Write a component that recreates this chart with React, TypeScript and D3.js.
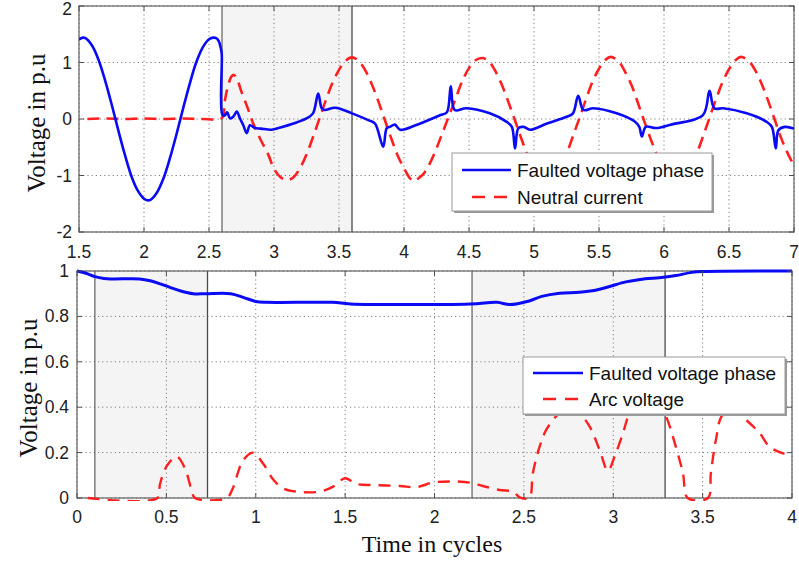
import React from 'react';
import * as d3 from 'd3';

// ---------- data ----------
const topTimeTicks = [1.5, 2, 2.5, 3, 3.5, 4, 4.5, 5, 5.5, 6, 6.5, 7];
const topValueTicks = [-2, -1, 0, 1, 2];
const bottomTimeTicks = [0, 0.5, 1, 1.5, 2, 2.5, 3, 3.5, 4];
const bottomValueTicks = [0, 0.2, 0.4, 0.6, 0.8, 1];

const topShaded: [number, number][] = [[2.6, 3.6]];
const bottomShaded: [number, number][] = [[0.1, 0.73], [2.21, 3.29]];

const topLegendLabels = ['Faulted voltage phase', 'Neutral current'];
const bottomLegendLabels = ['Faulted voltage phase', 'Arc voltage'];

const topFaultedVoltage: [number, number][] = [
  [1.5, 1.41], [1.53, 1.44], [1.55, 1.43], [1.6, 1.3], [1.65, 1.05], [1.7, 0.69], [1.75, 0.27],
  [1.8, -0.18], [1.85, -0.61], [1.9, -0.99], [1.95, -1.26], [2.0, -1.41], [2.03, -1.44],
  [2.05, -1.43], [2.1, -1.3], [2.15, -1.05], [2.2, -0.69], [2.25, -0.27], [2.3, 0.18],
  [2.35, 0.61], [2.4, 0.99], [2.45, 1.26], [2.5, 1.41], [2.53, 1.44], [2.555, 1.43],
  [2.575, 1.38], [2.59, 1.26], [2.598, 1.15], [2.602, 0.08], [2.62, 0.06], [2.64, 0.12],
  [2.662, 0.01], [2.69, 0.05], [2.713, 0.13], [2.74, 0.0], [2.764, -0.11], [2.79, -0.25],
  [2.815, -0.11], [2.854, -0.16], [2.9, -0.17], [2.98, -0.19], [3.05, -0.15], [3.15, -0.08],
  [3.25, 0.01], [3.3, 0.1], [3.34, 0.45], [3.367, 0.19], [3.39, 0.16], [3.47, 0.2],
  [3.6, 0.1], [3.725, -0.02], [3.777, -0.08], [3.84, -0.49], [3.867, -0.16], [3.89, -0.14],
  [3.93, -0.1], [3.97, -0.19], [4.1, -0.1], [4.28, 0.07], [4.33, 0.12], [4.36, 0.58],
  [4.39, 0.16], [4.48, 0.19], [4.66, 0.1], [4.79, -0.05], [4.83, -0.14], [4.854, -0.52],
  [4.88, -0.16], [4.92, -0.14], [4.97, -0.19], [5.1, -0.08], [5.25, 0.04], [5.3, 0.1],
  [5.34, 0.41], [5.38, 0.16], [5.456, 0.19], [5.636, 0.1], [5.777, -0.05], [5.81, -0.14],
  [5.83, -0.31], [5.86, -0.14], [5.94, -0.16], [6.05, -0.1], [6.3, 0.07], [6.35, 0.5],
  [6.387, 0.19], [6.456, 0.19], [6.636, 0.1], [6.79, -0.05], [6.83, -0.14], [6.86, -0.52],
  [6.88, -0.2], [6.93, -0.14], [7.0, -0.17],
];

const topNeutralCurrent: [number, number][] = [
  [1.565, 0], [1.7, 0.01], [1.85, 0], [2.0, 0.01], [2.15, 0], [2.3, 0.01], [2.45, 0], [2.6, 0.02],
  [2.62, 0.3], [2.65, 0.62], [2.675, 0.76], [2.69, 0.78], [2.71, 0.74], [2.75, 0.48],
  [2.8, 0.18], [2.84, -0.08], [2.9, -0.38], [2.956, -0.63], [3.0, -0.88], [3.05, -1.03],
  [3.1, -1.08], [3.15, -1.03], [3.2, -0.87], [3.25, -0.63], [3.3, -0.32], [3.35, 0.01],
  [3.4, 0.34], [3.45, 0.64], [3.5, 0.87], [3.55, 1.03], [3.6, 1.09], [3.65, 1.03],
  [3.7, 0.87], [3.75, 0.63], [3.8, 0.33], [3.85, 0.0], [3.9, -0.33], [3.95, -0.64],
  [4.0, -0.87], [4.05, -1.06], [4.08, -1.1], [4.1, -1.07], [4.15, -0.97], [4.2, -0.78],
  [4.25, -0.52], [4.3, -0.22], [4.35, 0.08], [4.4, 0.38], [4.45, 0.68], [4.5, 0.9],
  [4.55, 1.04], [4.6, 1.08], [4.65, 1.03], [4.7, 0.86], [4.75, 0.62], [4.8, 0.32],
  [4.85, 0.0], [4.9, -0.33], [4.95, -0.64], [5.0, -0.87], [5.05, -1.02], [5.1, -1.07],
  [5.15, -1.02], [5.2, -0.86], [5.25, -0.62], [5.3, -0.3], [5.35, 0.02], [5.4, 0.35],
  [5.45, 0.66], [5.5, 0.89], [5.55, 1.05], [5.59, 1.1], [5.65, 1.02], [5.7, 0.84],
  [5.75, 0.6], [5.8, 0.28], [5.85, -0.05], [5.9, -0.37], [5.95, -0.66], [6.0, -0.88],
  [6.05, -1.02], [6.1, -1.07], [6.15, -1.02], [6.2, -0.86], [6.25, -0.62], [6.3, -0.31],
  [6.35, 0.02], [6.4, 0.35], [6.45, 0.65], [6.5, 0.88], [6.55, 1.04], [6.59, 1.1],
  [6.65, 1.03], [6.7, 0.87], [6.75, 0.63], [6.8, 0.33], [6.85, 0.0], [6.9, -0.33],
  [6.95, -0.6], [7.0, -0.83],
];

const bottomFaultedVoltage: [number, number][] = [
  [0, 1.0], [0.05, 0.99], [0.1, 0.975], [0.15, 0.967], [0.2, 0.965], [0.35, 0.965],
  [0.41, 0.957], [0.47, 0.942], [0.52, 0.928], [0.58, 0.912], [0.65, 0.9], [0.72, 0.9],
  [0.86, 0.9], [0.93, 0.884], [1.0, 0.866], [1.06, 0.862], [1.43, 0.862], [1.53, 0.855],
  [2.2, 0.855], [2.35, 0.862], [2.42, 0.852], [2.53, 0.868], [2.6, 0.888], [2.7, 0.902],
  [2.81, 0.906], [2.9, 0.915], [2.98, 0.932], [3.07, 0.952], [3.15, 0.963], [3.28, 0.972],
  [3.35, 0.98], [3.44, 0.994], [3.5, 0.998], [4.0, 1.0],
];

const bottomArcVoltage: [number, number][] = [
  [0.06, 0], [0.45, 0], [0.464, 0.06], [0.5, 0.138], [0.557, 0.183], [0.604, 0.13],
  [0.641, 0.035], [0.66, 0], [0.837, 0], [0.87, 0.04], [0.893, 0.094], [0.93, 0.167],
  [0.985, 0.2], [1.04, 0.153], [1.1, 0.079], [1.153, 0.043], [1.228, 0.028], [1.358, 0.028],
  [1.433, 0.05], [1.5, 0.087], [1.563, 0.062], [1.656, 0.057], [1.805, 0.053], [1.9, 0.048],
  [1.99, 0.068], [2.085, 0.073], [2.197, 0.068], [2.27, 0.053], [2.364, 0.035], [2.44, 0.028],
  [2.476, 0.003], [2.53, 0], [2.55, 0.109], [2.588, 0.226], [2.625, 0.3], [2.7, 0.375],
  [2.76, 0.4], [2.81, 0.375], [2.868, 0.314], [2.924, 0.211], [2.97, 0.12], [3.007, 0.182],
  [3.054, 0.285], [3.09, 0.373], [3.15, 0.45], [3.2, 0.47], [3.25, 0.42], [3.296, 0.358],
  [3.35, 0.226], [3.39, 0.109], [3.417, 0], [3.53, 0], [3.546, 0.109], [3.574, 0.255],
  [3.61, 0.365], [3.67, 0.39], [3.743, 0.344], [3.82, 0.285], [3.874, 0.226], [3.95, 0.197],
  [4.0, 0.19],
];

// ---------- styles ----------
const BLUE = '#0a0af5';
const RED = '#ff1f1f';
const SANS = '"Liberation Sans", Arial, Helvetica, sans-serif';
const SERIF = '"Liberation Serif", "Times New Roman", serif';

type Series = { data: [number, number][]; color: string; dash?: string; width: number };

type PanelProps = {
  id: string;
  left: number; right: number; top: number; bottom: number;
  xDomain: [number, number]; yDomain: [number, number];
  xTicks: number[]; yTicks: number[];
  shaded: [number, number][];
  series: Series[];
  legend: { x: number; y: number; w: number; h: number; labels: string[]; lineX0: number; lineX1: number; dashX0: number; textX: number; rows: number[] };
  yLabelX: number; yLabelY: number; xTickBaseline: number; yTickRight: number;
};

function Panel(p: PanelProps) {
  const x = d3.scaleLinear().domain(p.xDomain).range([p.left, p.right]);
  const y = d3.scaleLinear().domain(p.yDomain).range([p.bottom, p.top]);
  const line = d3.line<[number, number]>()
    .x(d => x(d[0]))
    .y(d => y(d[1]))
    .curve(d3.curveCatmullRom.alpha(0.5));
  const tl = 5;
  const pad = 3;
  return (
    <g>
      <defs>
        <clipPath id={p.id}>
          <rect x={p.left} y={p.top - pad} width={p.right - p.left} height={p.bottom - p.top + 2 * pad} />
        </clipPath>
      </defs>
      {p.shaded.map(([a, b], i) => (
        <g key={'s' + i}>
          <rect x={x(a)} y={p.top} width={x(b) - x(a)} height={p.bottom - p.top} fill="#f4f4f4" />
        </g>
      ))}
      {p.xTicks.map((t, i) => (
        <line key={'gx' + i} x1={x(t)} x2={x(t)} y1={p.top} y2={p.bottom} stroke="#808080" strokeWidth={1} strokeDasharray="1.2,3" />
      ))}
      {p.yTicks.map((t, i) => (
        <line key={'gy' + i} x1={p.left} x2={p.right} y1={y(t)} y2={y(t)} stroke="#808080" strokeWidth={1} strokeDasharray="1.2,3" />
      ))}
      {p.shaded.map(([a, b], i) => (
        <g key={'sl' + i}>
          <line x1={x(a)} x2={x(a)} y1={p.top} y2={p.bottom} stroke="#6a6a6a" strokeWidth={1.3} />
          <line x1={x(b)} x2={x(b)} y1={p.top} y2={p.bottom} stroke="#4a4a4a" strokeWidth={1.3} />
        </g>
      ))}
      <rect x={p.left} y={p.top} width={p.right - p.left} height={p.bottom - p.top} fill="none" stroke="#606060" strokeWidth={1.2} />
      <g clipPath={`url(#${p.id})`}>
        {p.series.map((s, i) => (
          <path key={'c' + i} d={line(s.data) || ''} fill="none" stroke={s.color} strokeWidth={s.width}
            strokeDasharray={s.dash} strokeLinejoin="round" />
        ))}
      </g>
      {p.xTicks.map((t, i) => (
        <g key={'tx' + i}>
          <line x1={x(t)} x2={x(t)} y1={p.bottom} y2={p.bottom - tl} stroke="#505050" />
          <line x1={x(t)} x2={x(t)} y1={p.top} y2={p.top + tl} stroke="#505050" />
          <text x={x(t)} y={p.xTickBaseline} textAnchor="middle" fontFamily={SANS} fontSize={17.5} fill="#222">{String(t)}</text>
        </g>
      ))}
      {p.yTicks.map((t, i) => (
        <g key={'ty' + i}>
          <line x1={p.left} x2={p.left + tl} y1={y(t)} y2={y(t)} stroke="#505050" />
          <line x1={p.right} x2={p.right - tl} y1={y(t)} y2={y(t)} stroke="#505050" />
          <text x={p.yTickRight} y={Math.max(y(t) + 6, 15)} textAnchor="end" fontFamily={SANS} fontSize={17.5} fill="#222">{String(t)}</text>
        </g>
      ))}
      <text transform={`translate(${p.yLabelX},${p.yLabelY}) rotate(-90)`} textAnchor="middle" dominantBaseline="central"
        fontFamily={SERIF} fontSize={25} fill="#111">Voltage in p.u</text>
      {/* legend */}
      <g>
        <rect x={p.legend.x + 2} y={p.legend.y + 2} width={p.legend.w} height={p.legend.h} fill="#9a9a9a" />
        <rect x={p.legend.x} y={p.legend.y} width={p.legend.w} height={p.legend.h} fill="#fff" stroke="#9a9a9a" strokeWidth={1} />
        <line x1={p.legend.lineX0} x2={p.legend.lineX1} y1={p.legend.rows[0]} y2={p.legend.rows[0]} stroke={BLUE} strokeWidth={2.6} />
        <line x1={p.legend.dashX0} x2={p.legend.lineX1} y1={p.legend.rows[1]} y2={p.legend.rows[1]} stroke={RED} strokeWidth={2.6} strokeDasharray="13,9" />
        {p.legend.labels.map((l, i) => (
          <text key={'l' + i} x={p.legend.textX} y={p.legend.rows[i] + 7} fontFamily={SANS} fontSize={19} fill="#111">{l}</text>
        ))}
      </g>
    </g>
  );
}

export default function App() {
  return (
    <div style={{ position: 'absolute', left: 0, top: 0, width: 799, height: 568, background: '#fff' }}>
      <svg width={799} height={568} style={{ display: 'block' }}>
        <Panel
          id="clipTop" left={79} right={794} top={6} bottom={232}
          xDomain={[1.5, 7]} yDomain={[-2, 2]} xTicks={topTimeTicks} yTicks={topValueTicks}
          shaded={topShaded}
          series={[
            { data: topNeutralCurrent, color: RED, dash: '12,7', width: 2.6 },
            { data: topFaultedVoltage, color: BLUE, width: 2.6 },
          ]}
          legend={{ x: 452, y: 153, w: 260, h: 58, labels: topLegendLabels, lineX0: 462, lineX1: 511, dashX0: 472, textX: 517, rows: [170, 197] }}
          yLabelX={36} yLabelY={123} xTickBaseline={258} yTickRight={72}
        />
        <Panel
          id="clipBottom" left={77} right={792} top={271} bottom={498}
          xDomain={[0, 4]} yDomain={[0, 1]} xTicks={bottomTimeTicks} yTicks={bottomValueTicks}
          shaded={bottomShaded}
          series={[
            { data: bottomArcVoltage, color: RED, dash: '12,8', width: 2.4 },
            { data: bottomFaultedVoltage, color: BLUE, width: 3 },
          ]}
          legend={{ x: 523, y: 357, w: 262, h: 57, labels: bottomLegendLabels, lineX0: 533, lineX1: 583, dashX0: 543, textX: 589, rows: [373, 399] }}
          yLabelX={28} yLabelY={388} xTickBaseline={523} yTickRight={69}
        />
        <text x={432} y={552} textAnchor="middle" fontFamily={SERIF} fontSize={24} fill="#111">Time in cycles</text>
      </svg>
    </div>
  );
}
